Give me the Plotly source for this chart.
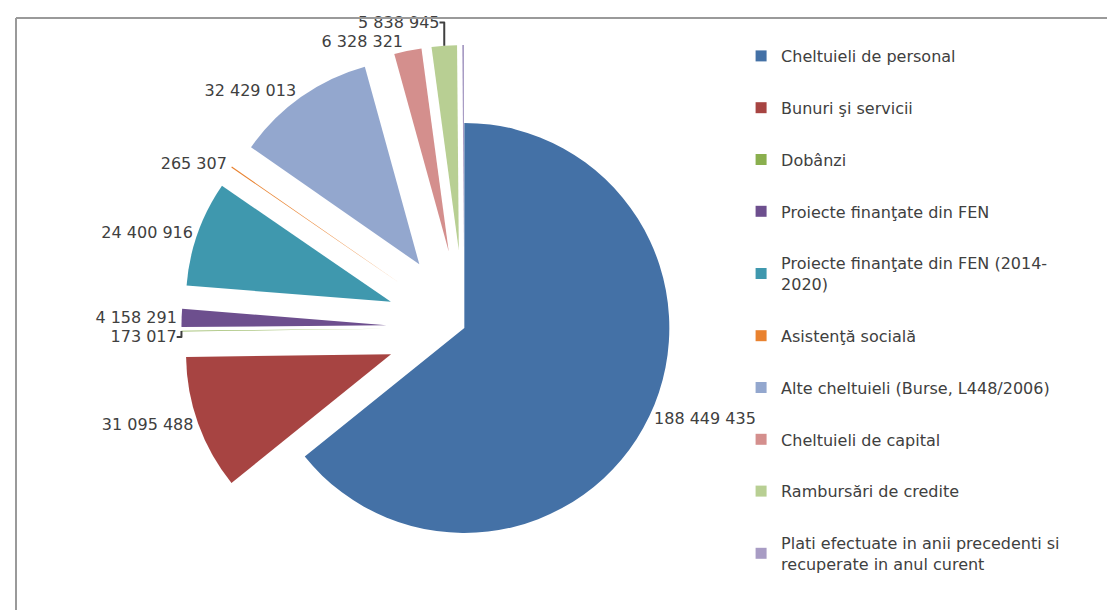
import plotly.graph_objects as go

categories = [
    "Cheltuieli de personal",
    "Bunuri şi servicii",
    "Dobânzi",
    "Proiecte finanţate din FEN",
    "Proiecte finanţate din FEN (2014-<br>2020)",
    "Asistenţă socială",
    "Alte cheltuieli (Burse, L448/2006)",
    "Cheltuieli de capital",
    "Rambursări de credite",
    "Plati efectuate in anii precedenti si<br>recuperate in anul curent",
]
values = [188449435, 31095488, 173017, 4158291, 24400916, 265307,
          32429013, 6328321, 5838945, 400000]
show_label = [True, True, True, True, True, True, True, True, True, False]

colors = ["#4471A6", "#A74442", "#8AAF4E", "#6D4F8E", "#3F98AE",
          "#E9822F", "#93A7CE", "#D48F8D", "#B8CF93", "#A89CC4"]
pulls = [0] + [0.38] * 9

FONT = "DejaVu Sans"

fig = go.Figure()
fig.add_trace(go.Pie(
    labels=categories,
    values=values,
    sort=False,
    direction="clockwise",
    rotation=0,
    pull=pulls,
    marker=dict(colors=colors, line=dict(width=0)),
    texttemplate=["%{value:,}" if s else "" for s in show_label],
    textposition="outside",
    textfont=dict(family=FONT, size=16, color="#404040"),
    showlegend=False,
    domain=dict(x=[0.105, 0.705], y=[0.012, 0.955]),
    hoverinfo="label+value",
))

for i, (lab, col) in enumerate(zip(categories, colors)):
    fig.add_trace(go.Scatter(
        x=[None], y=[None], mode="markers", name=lab,
        legendgroup=f"g{i}",
        marker=dict(symbol="square", size=11, color=col),
        xaxis="x", yaxis="y",
    ))

fig.update_layout(
    width=1115, height=610,
    margin=dict(l=8, r=0, t=10, b=0, autoexpand=False),
    paper_bgcolor="white",
    plot_bgcolor="white",
    separators=", ",
    font=dict(family=FONT, size=16, color="#404040"),
    xaxis=dict(visible=False, domain=[0.9, 1.0]),
    yaxis=dict(visible=False),
    legend=dict(
        x=0.655, y=0.965, xanchor="left", yanchor="top",
        traceorder="grouped", tracegroupgap=28,
        bgcolor="rgba(0,0,0,0)",
        font=dict(family=FONT, size=16, color="#404040"),
        itemwidth=30,
    ),
    shapes=[
        dict(type="line", xref="paper", yref="paper", x0=0, x1=0, y0=0, y1=1,
             line=dict(color="#9A9A9A", width=2)),
        dict(type="line", xref="paper", yref="paper", x0=0, x1=1, y0=1, y1=1,
             line=dict(color="#9A9A9A", width=2)),
    ],
)

fig.write_html("out.html")
